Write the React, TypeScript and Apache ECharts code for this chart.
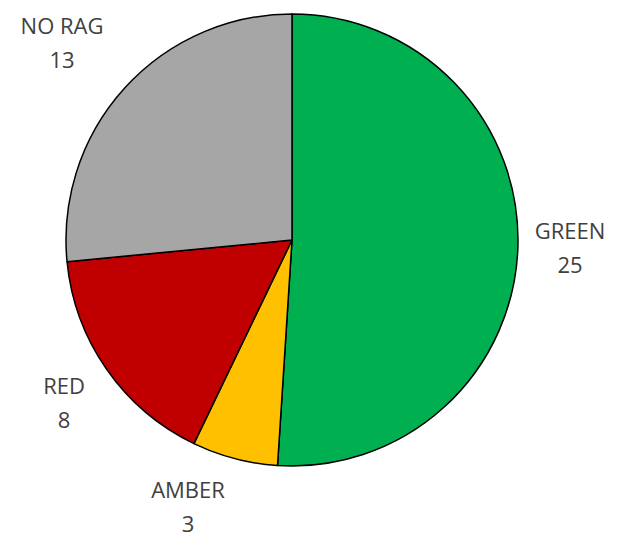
import React, { useEffect, useRef } from "react";
import * as echarts from "echarts";

const categories = ["GREEN", "AMBER", "RED", "NO RAG"];
const values = [25, 3, 8, 13];
const colors = ["#00B050", "#FFC000", "#C00000", "#A6A6A6"];
// label block centres (px) in the chart container
const labelPos: [number, number][] = [
  [570, 247],
  [188, 506],
  [64, 402],
  [62, 42],
];

export default function App() {
  const ref = useRef<HTMLDivElement>(null);
  useEffect(() => {
    if (!ref.current) return;
    const chart = echarts.init(ref.current, undefined, { renderer: "svg" });
    chart.setOption({
      animation: false,
      backgroundColor: "#ffffff",
      series: [
        {
          type: "pie",
          center: [292, 240],
          radius: 226,
          startAngle: 90,
          clockwise: true,
          avoidLabelOverlap: false,
          data: categories.map((name, i) => ({
            name,
            value: values[i],
            itemStyle: { color: colors[i] },
          })),
          itemStyle: { borderColor: "#000000", borderWidth: 1.5 },
          label: {
            show: true,
            position: "outside",
            formatter: "{b}\n{c}",
            color: "#404040",
            fontFamily: "Open Sans",
            fontSize: 22,
            lineHeight: 34,
            align: "center",
            verticalAlign: "middle",
          },
          labelLine: { show: false },
          labelLayout: (params: any) => {
            const p = labelPos[params.dataIndex];
            return { x: p[0], y: p[1], align: "center", verticalAlign: "middle" };
          },
          emphasis: { disabled: true },
        },
      ],
    });
    return () => chart.dispose();
  }, []);
  return (
    <div
      ref={ref}
      style={{ position: "fixed", left: 0, top: 0, width: 619, height: 537 }}
    />
  );
}
